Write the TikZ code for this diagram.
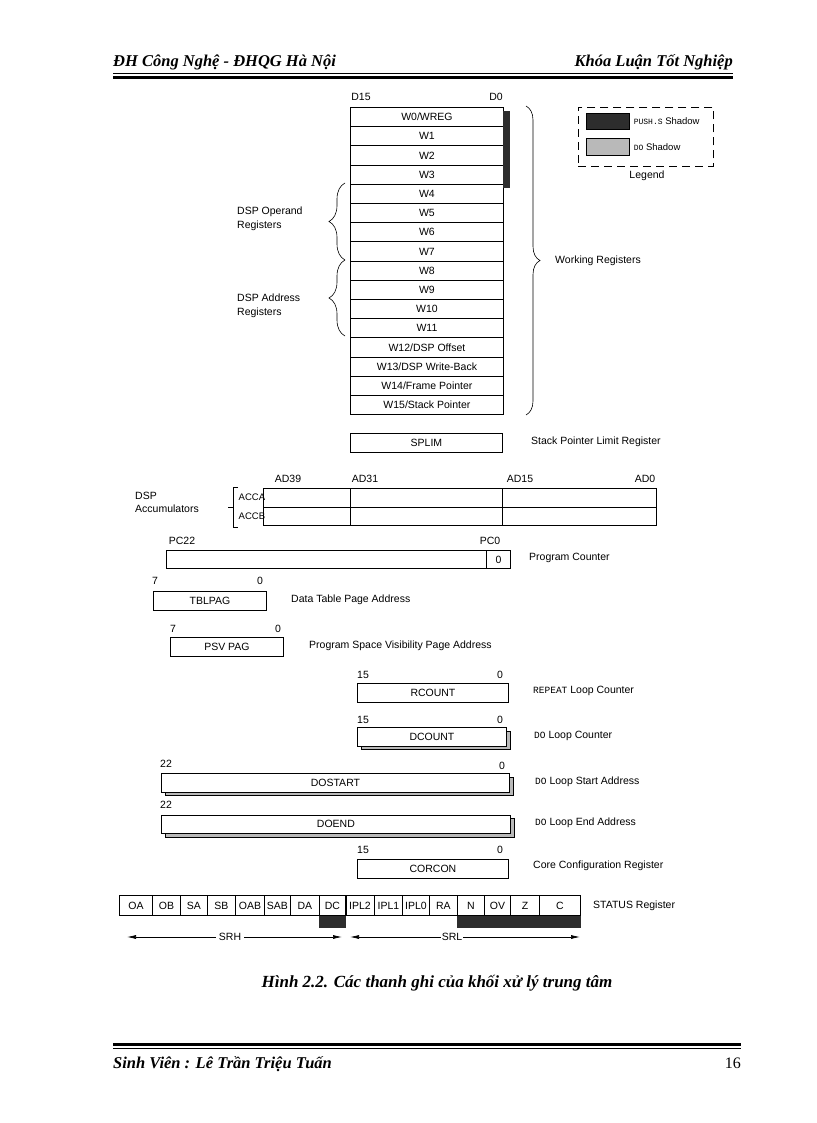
\documentclass[tikz,border=0pt]{standalone}
\usepackage{fontspec}
\setmainfont{Liberation Serif}
\setsansfont{Liberation Sans}
\setmonofont{Liberation Mono}
\usetikzlibrary{positioning, arrows.meta, decorations.pathreplacing, calc}
\definecolor{RegDark}{RGB}{45,45,45}
\definecolor{RegGray}{RGB}{185,185,185}
\newcommand\regfont{\sffamily\fontsize{10.5}{12}\selectfont}
\newcommand\opfont{\ttfamily\fontsize{9.5}{10}\selectfont}
\newcommand\pagefont{\rmfamily\bfseries\itshape\fontsize{16.5}{19}\selectfont}

\begin{document}
\begin{tikzpicture}[x=1pt, y=-1pt,
    reg/.style={rectangle, draw, line width=0.9pt, fill=white, inner sep=0pt,
                minimum height=19pt, anchor=north west, font=\regfont},
    shadowbox/.style={rectangle, draw, line width=0.6pt, fill=RegGray, inner sep=0pt,
                minimum height=19pt, anchor=north west},
    lbl/.style={anchor=west, inner sep=0pt, font=\regfont},
    lbltwo/.style={anchor=north west, align=left, inner sep=0pt,
                font=\sffamily\fontsize{10.5}{14}\selectfont},
    bit/.style={inner sep=0pt, font=\regfont},
    curly/.style={decorate, decoration={brace, amplitude=#1}, line width=0.6pt},
    pagetxt/.style={inner sep=0pt, font=\pagefont}
  ]
  \useasboundingbox (0,0) rectangle (816,1123);

  % page header
  \node[pagetxt, anchor=base west] (hdrl) at (113,67) {ĐH Công Nghệ - ĐHQG Hà Nội};
  \node[pagetxt, anchor=base east] (hdrr) at (733,67) {Khóa Luận Tốt Nghiệp};
  \draw[line width=0.8pt] (113,73.5) -- (733,73.5);
  \draw[line width=3.5pt] (113,77.3) -- (733,77.3);

  % working registers
  \node[bit] (d15) at (361,97) {D15};
  \node[bit] (d0) at (496,97) {D0};
  \foreach \t [count=\i from 0] in {{W0/WREG},W1,W2,W3,W4,W5,W6,W7,W8,W9,W10,W11,
      {W12/DSP Offset},{W13/DSP Write-Back},{W14/Frame Pointer},{W15/Stack Pointer}}{
    \node[reg, minimum width=153pt, minimum height=19.2pt] (w\i) at (350,107+19.2*\i) {\t};
  }
  \fill[RegDark] (503,111) rectangle (510,188);
  \draw[curly=14pt] (526,106) -- (526,415);
  \node[lbl] (wlbl) at (555,261) {Working Registers};
  \draw[curly=16pt] (345,260) -- (345,183);
  \draw[curly=16pt] (345,336) -- (345,260);
  \node[lbltwo] (oplbl) at (237,207) {DSP Operand\\Registers};
  \node[lbltwo] (adlbl) at (237,294) {DSP Address\\Registers};

  % legend
  \node[draw, dash pattern=on 8pt off 5pt, line width=0.8pt, inner sep=0pt,
        minimum width=135pt, minimum height=59pt, anchor=north west] (legend) at (578,107) {};
  \node[shadowbox, fill=RegDark, minimum width=43pt, minimum height=16pt] (pushbox) at (586,113) {};
  \node[shadowbox, minimum width=43pt, minimum height=17pt] (dobox) at (586,138) {};
  \node[lbl, right=4pt of pushbox, font=\sffamily\fontsize{9.5}{10}\selectfont] (pushlbl)
        {{\ttfamily\fontsize{8}{9}\selectfont PUSH.S} Shadow};
  \node[lbl, right=4pt of dobox, font=\sffamily\fontsize{9.5}{10}\selectfont] (dolbl)
        {{\ttfamily\fontsize{8}{9}\selectfont DO} Shadow};
  \node[bit] (leglbl) at (647,176) {Legend};

  % stack pointer limit
  \node[reg, minimum width=152pt] (splim) at (350,433) {SPLIM};
  \node[lbl] (splimlbl) at (531,442) {Stack Pointer Limit Register};

  % accumulators
  \foreach \b/\x in {AD39/288,AD31/365,AD15/520,AD0/645}{
    \node[bit] (\b) at (\x,479) {\b};
  }
  \foreach \r/\y in {a/488,b/506.5}{
    \foreach \c/\x/\w in {1/263/87,2/350/152,3/502/154}{
      \node[reg, minimum width=\w pt, minimum height=18.5pt] (acc\r\c) at (\x,\y) {};
    }
  }
  \node[lbl, font=\sffamily\fontsize{9.5}{10}\selectfont] (accalbl) at (238.5,497) {ACCA};
  \node[lbl, font=\sffamily\fontsize{9.5}{10}\selectfont] (accblbl) at (238.5,516) {ACCB};
  \draw[line width=0.6pt] (238,487) -- (233,487) -- (233,527) -- (238,527)
                          (233,507) -- (228,507);
  \node[lbltwo, font=\sffamily\fontsize{10.5}{13}\selectfont] (acclbl) at (135,492) {DSP\\Accumulators};

  % program counter and page registers
  \node[bit] (pchi) at (182,541) {PC22};
  \node[bit] (pclo) at (490,541) {PC0};
  \node[reg, minimum width=320pt, minimum height=18pt] (pc) at (166,550) {};
  \node[reg, minimum width=24pt, minimum height=18pt] (pczero) at (486,550) {0};
  \node[lbl] (pclbl) at (529,558) {Program Counter};

  \node[bit] (tblhi) at (155,581) {7};
  \node[bit] (tbllo) at (260,581) {0};
  \node[reg, minimum width=113pt] (tblpag) at (153,590.5) {TBLPAG};
  \node[lbl] (tbllbl) at (291,600) {Data Table Page Address};

  \node[bit] (psvhi) at (173,629) {7};
  \node[bit] (psvlo) at (278,629) {0};
  \node[reg, minimum width=113pt] (psvpag) at (170,637) {PSV PAG};
  \node[lbl] (psvlbl) at (309,646) {Program Space Visibility Page Address};

  % loop registers
  \node[bit] (rchi) at (363,675) {15};
  \node[bit] (rclo) at (500,675) {0};
  \node[reg, minimum width=151pt] (rcount) at (357,682.5) {RCOUNT};
  \node[lbl] (rclbl) at (533,691) {{\opfont REPEAT} Loop Counter};

  \node[bit] (dchi) at (363,720) {15};
  \node[bit] (dclo) at (500,720) {0};
  \node[bit] (dshi) at (166,764) {22};
  \node[bit] (dslo) at (502,766) {0};
  \node[bit] (dehi) at (166,805) {22};
  \foreach \nm/\x/\y/\w/\t in {dcount/357/727/149/DCOUNT, dostart/161/773/348/DOSTART,
                               doend/161/814.5/349/DOEND}{
    \node[shadowbox, minimum width=\w pt, minimum height=18.5pt] (\nm-sh) at (\x+3.5,\y+3.5) {};
    \node[reg, minimum width=\w pt, minimum height=18.5pt] (\nm) at (\x,\y) {\t};
  }
  \node[lbl] (dclbl) at (534,736) {{\opfont DO} Loop Counter};
  \node[lbl] (dslbl) at (535,782) {{\opfont DO} Loop Start Address};
  \node[lbl] (delbl) at (535,823) {{\opfont DO} Loop End Address};

  \node[bit] (cchi) at (363,850) {15};
  \node[bit] (cclo) at (500,850) {0};
  \node[reg, minimum width=151pt] (corcon) at (357,858.5) {CORCON};
  \node[lbl] (cclbl) at (533,866) {Core Configuration Register};

  % status register
  \foreach \a/\b/\t [count=\k, evaluate=\b as \w using \b-\a] in {
      119/152/OA, 152/180/OB, 180/207/SA, 207/235/SB, 235/264/OAB, 264/290/SAB,
      290/319/DA, 319/345/DC, 345/374/IPL2, 374/402/IPL1, 402/429/IPL0, 429/457/RA,
      457/484/N, 484/510/OV, 510/539/Z, 539/580/C}{
    \node[reg, minimum width=\w pt, minimum height=20pt] (st\k) at (\a,895) {\t};
  }
  \draw[line width=2.5pt] (st8.north east) -- (st8.south east);
  \fill[RegDark] (st8.south west) rectangle ($(st8.south east)+(0,12)$);
  \fill[RegDark] (st13.south west) rectangle ($(st16.south east)+(0,12)$);
  \node[lbl] (stlbl) at (593,906) {STATUS Register};
  \coordinate (srhl) at (127,937);
  \coordinate (srhr) at (342,937);
  \coordinate (srll) at (350,937);
  \coordinate (srlr) at (580,937);
  \node[bit, fill=white, inner xsep=3pt] (srh) at (230,937) {SRH};
  \node[bit, fill=white, inner xsep=1pt] (srl) at (452,937) {SRL};
  \draw[-{Latex[length=9pt, width=4pt]}, line width=0.7pt] (srh) -- (srhl);
  \draw[-{Latex[length=9pt, width=4pt]}, line width=0.7pt] (srh) -- (srhr);
  \draw[-{Latex[length=9pt, width=4pt]}, line width=0.7pt] (srl) -- (srll);
  \draw[-{Latex[length=9pt, width=4pt]}, line width=0.7pt] (srl) -- (srlr);

  % caption and page footer
  \node[pagetxt, font=\rmfamily\bfseries\itshape\fontsize{17}{20}\selectfont] (caption)
        at (437,983) {Hình 2.2. Các thanh ghi của khối xử lý trung tâm};
  \draw[line width=3.5pt] (113,1044.5) -- (741,1044.5);
  \draw[line width=0.8pt] (113,1048.7) -- (741,1048.7);
  \node[pagetxt, anchor=base west] (ftrl) at (113,1068) {Sinh Viên : Lê Trần Triệu Tuấn};
  \node[pagetxt, font=\rmfamily\fontsize{16}{19}\selectfont, anchor=base east] (ftrr) at (741,1068) {16};
\end{tikzpicture}
\end{document}
